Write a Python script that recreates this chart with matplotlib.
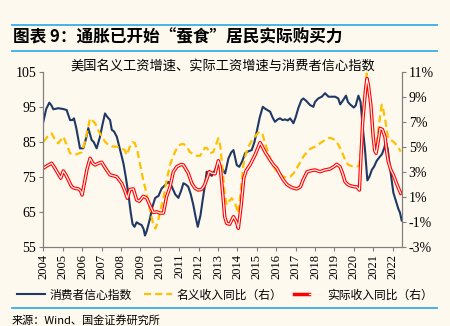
import matplotlib
matplotlib.use("Agg")
import matplotlib.pyplot as plt
from matplotlib.lines import Line2D
from matplotlib.legend_handler import HandlerTuple
from matplotlib.ticker import FuncFormatter

plt.rcParams['font.family'] = ['Noto Sans CJK SC', 'DejaVu Sans']

BG = '#fdf9ee'
RULE = '#3aaee8'
SERIF = 'Liberation Serif'

# Consumer sentiment (left axis)
conf_t = [2004.0, 2004.15, 2004.31, 2004.42, 2004.52, 2004.77, 2005.0, 2005.2, 2005.38, 2005.5,
          2005.58, 2005.7, 2005.89, 2006.06, 2006.2, 2006.32, 2006.49, 2006.6, 2006.75, 2006.92,
          2007.05, 2007.18, 2007.3, 2007.44, 2007.53, 2007.65, 2007.79, 2007.96, 2008.13, 2008.25,
          2008.38, 2008.5, 2008.6, 2008.7, 2008.81, 2008.95, 2009.07, 2009.17, 2009.24, 2009.33,
          2009.5, 2009.6, 2009.76, 2009.85, 2009.93, 2010.1, 2010.25, 2010.44, 2010.6, 2010.8,
          2010.96, 2011.1, 2011.22, 2011.35, 2011.47, 2011.6, 2011.73, 2011.85, 2011.96, 2012.1,
          2012.2, 2012.3, 2012.42, 2012.55, 2012.68, 2012.85, 2012.97, 2013.1, 2013.2, 2013.37,
          2013.54, 2013.68, 2013.8, 2013.97, 2014.1, 2014.25, 2014.4, 2014.55, 2014.74, 2014.88,
          2015.0, 2015.15, 2015.31, 2015.45, 2015.69, 2015.82, 2015.94, 2016.08, 2016.2, 2016.33,
          2016.46, 2016.6, 2016.72, 2016.89, 2017.0, 2017.14, 2017.3, 2017.4, 2017.55, 2017.75,
          2017.92, 2018.0, 2018.17, 2018.35, 2018.52, 2018.7, 2018.86, 2019.04, 2019.2, 2019.3,
          2019.45, 2019.6, 2019.7, 2019.81, 2020.0, 2020.1, 2020.24, 2020.35, 2020.45, 2020.58,
          2020.7, 2020.8, 2020.93, 2021.05, 2021.18, 2021.3, 2021.45, 2021.55, 2021.66, 2021.75,
          2021.87, 2022.04, 2022.15, 2022.3, 2022.38, 2022.47]
conf_v = [90.8, 94.5, 96.3, 95.5, 94.4, 94.7, 94.5, 94.2, 91.3, 91.3,
          91.8, 89.0, 83.2, 83.2, 86.0, 89.0, 85.6, 85.0, 83.2, 86.5,
          90.0, 93.2, 92.2, 91.3, 88.5, 88.0, 86.5, 82.7, 78.9, 75.0,
          70.3, 65.0, 61.5, 60.7, 62.0, 61.5, 61.2, 60.0, 58.2, 59.5,
          63.1, 66.0, 68.9, 69.3, 69.5, 71.7, 72.5, 73.6, 72.5, 70.0,
          69.0, 71.0, 73.2, 72.8, 72.2, 70.0, 67.0, 63.5, 60.7, 64.0,
          67.9, 71.5, 76.5, 76.0, 75.3, 77.0, 78.4, 78.2, 77.5, 76.0,
          80.3, 82.0, 82.7, 78.4, 77.9, 79.5, 81.8, 82.3, 82.7, 85.0,
          88.0, 92.0, 95.1, 94.5, 93.7, 92.0, 90.8, 91.5, 91.8, 91.3,
          91.5, 91.2, 91.8, 90.4, 92.0, 94.7, 97.0, 97.5, 96.8, 95.6,
          95.1, 96.5, 97.5, 98.0, 99.0, 98.0, 98.0, 98.0, 97.5, 95.8,
          97.0, 98.3, 96.5, 95.8, 94.9, 95.5, 98.3, 96.5, 90.0, 82.7,
          74.0, 75.0, 77.0, 78.0, 79.6, 80.5, 81.5, 83.0, 85.0, 83.0,
          77.5, 70.5, 68.5, 65.8, 64.8, 62.5]

# Nominal income yoy % (right axis)
nom_t = [2004.0, 2004.2, 2004.43, 2004.6, 2004.77, 2005.03, 2005.2, 2005.38, 2005.55, 2005.72,
         2005.98, 2006.15, 2006.3, 2006.41, 2006.55, 2006.67, 2006.85, 2007.01, 2007.2, 2007.35,
         2007.55, 2007.78, 2008.04, 2008.2, 2008.3, 2008.45, 2008.6, 2008.72, 2008.85, 2009.0,
         2009.15, 2009.33, 2009.5, 2009.67, 2009.78, 2009.9, 2010.0, 2010.19, 2010.36, 2010.53,
         2010.7, 2010.88, 2011.05, 2011.22, 2011.4, 2011.55, 2011.73, 2011.9, 2012.08, 2012.2,
         2012.33, 2012.45, 2012.59, 2012.76, 2012.9, 2013.02, 2013.12, 2013.22, 2013.35, 2013.45,
         2013.6, 2013.71, 2013.88, 2014.05, 2014.18, 2014.31, 2014.45, 2014.57, 2014.82, 2015.13,
         2015.3, 2015.43, 2015.69, 2015.85, 2016.03, 2016.37, 2016.55, 2016.72, 2016.9, 2017.06,
         2017.25, 2017.4, 2017.6, 2017.75, 2018.0, 2018.26, 2018.5, 2018.77, 2019.04, 2019.2,
         2019.38, 2019.55, 2019.72, 2019.95, 2020.15, 2020.29, 2020.38, 2020.46, 2020.58, 2020.67,
         2020.75, 2020.8, 2020.9, 2021.0, 2021.1, 2021.18, 2021.3, 2021.44, 2021.52, 2021.61,
         2021.7, 2021.78, 2022.04, 2022.25, 2022.42]
nom_v = [5.43, 5.8, 6.1, 5.6, 5.3, 5.83, 5.2, 4.5, 4.4, 4.42,
         4.58, 5.43, 6.5, 7.3, 7.1, 6.9, 6.3, 5.83, 5.4, 5.17,
         5.05, 5.03, 4.9, 4.75, 4.36, 5.0, 5.4, 5.3, 4.7, 3.5,
         2.36, 1.2, -0.05, -1.25, -1.55, -1.0, -0.3, 0.9, 2.36, 3.56,
         4.3, 4.9, 5.2, 5.25, 5.0, 4.6, 4.45, 4.3, 4.3, 4.6,
         4.95, 4.9, 4.5, 4.6, 5.2, 5.7, 5.1, 3.5, 1.2, 0.35,
         0.7, 0.89, 0.49, -0.32, 1.5, 3.56, 4.5, 5.03, 5.7, 6.23,
         6.0, 5.3, 4.1, 3.5, 3.02, 2.62, 2.55, 2.62, 2.9, 3.3,
         3.8, 4.23, 4.6, 4.85, 5.03, 5.3, 5.55, 5.75, 5.57, 5.2,
         4.63, 4.0, 3.56, 3.45, 3.42, 3.56, 5.0, 7.04, 9.5, 10.9,
         10.0, 9.4, 7.5, 6.2, 4.76, 5.2, 6.8, 8.4, 8.0, 7.3,
         6.4, 5.7, 5.43, 5.1, 4.63]

# Real income yoy % (right axis)
real_t = [2004.0, 2004.2, 2004.43, 2004.6, 2004.75, 2004.9, 2005.03, 2005.15, 2005.29, 2005.46,
          2005.6, 2005.8, 2005.92, 2006.0, 2006.1, 2006.25, 2006.41, 2006.55, 2006.67, 2006.85,
          2007.01, 2007.2, 2007.44, 2007.6, 2007.78, 2008.04, 2008.2, 2008.33, 2008.47, 2008.64,
          2008.81, 2008.95, 2009.15, 2009.33, 2009.5, 2009.67, 2009.85, 2010.0, 2010.19, 2010.35,
          2010.53, 2010.7, 2010.88, 2011.1, 2011.22, 2011.47, 2011.65, 2011.82, 2011.99, 2012.16,
          2012.3, 2012.42, 2012.55, 2012.7, 2012.85, 2013.02, 2013.12, 2013.25, 2013.35, 2013.45,
          2013.6, 2013.8, 2013.95, 2014.05, 2014.2, 2014.33, 2014.45, 2014.65, 2014.91, 2015.17,
          2015.3, 2015.43, 2015.69, 2015.85, 2016.03, 2016.2, 2016.37, 2016.55, 2016.72, 2016.9,
          2017.06, 2017.25, 2017.4, 2017.6, 2017.8, 2018.0, 2018.26, 2018.5, 2018.77, 2019.0,
          2019.12, 2019.29, 2019.42, 2019.55, 2019.68, 2019.81, 2020.0, 2020.15, 2020.29, 2020.38,
          2020.46, 2020.6, 2020.68, 2020.75, 2020.88, 2021.0, 2021.08, 2021.15, 2021.25, 2021.36,
          2021.48, 2021.61, 2021.7, 2021.78, 2021.9, 2022.04, 2022.2, 2022.33, 2022.42]
real_v = [3.3, 3.5, 3.7, 3.3, 2.9, 2.5, 3.08, 2.8, 2.36, 1.82,
          1.7, 1.64, 1.5, 1.15, 1.96, 3.2, 4.1, 3.7, 3.56, 3.7,
          3.78, 3.3, 2.76, 2.7, 2.62, 2.09, 1.5, 0.89, 1.6, 1.64,
          0.75, 0.65, 1.05, 0.9, 0.3, -0.25, -0.2, -0.3, -0.3, 1.0,
          1.8, 3.0, 3.42, 3.6, 3.56, 2.9, 2.1, 1.69, 1.55, 1.6,
          1.9, 2.4, 3.02, 2.9, 2.85, 3.9, 3.4, 1.2, -0.6, -1.12,
          -1.2, -0.59, -1.0, -1.52, 0.35, 2.5, 3.1, 3.56, 4.36, 5.35,
          5.0, 4.6, 3.96, 3.6, 3.3, 2.8, 2.36, 2.0, 1.82, 1.7,
          1.64, 1.8, 2.4, 3.02, 3.1, 3.16, 3.02, 3.15, 3.24, 3.45,
          3.62, 3.42, 2.9, 2.22, 2.0, 1.9, 1.82, 1.8, 1.55, 4.5,
          7.04, 9.5, 10.5, 10.0, 8.38, 5.83, 4.7, 4.5, 5.4, 6.5,
          6.4, 5.8, 4.6, 3.83, 3.2, 2.76, 2.1, 1.6, 1.29]

years = list(range(2004, 2023))

fig = plt.figure(figsize=(4.5, 3.26), dpi=100, facecolor=BG)

# header and footer rules
for y in [1 - 25 / 326, 1 - 51 / 326, 1 - 308 / 326]:
    fig.add_artist(Line2D([12 / 450, 437 / 450], [y, y], color=RULE, lw=1.3))
fig.text(13 / 450, 1 - 37 / 326, '图表 9：通胀已开始“蚕食”居民实际购买力', fontsize=12,
         fontweight='bold', va='center', ha='left')
fig.text(12 / 450, 1 - 320 / 326, '来源：Wind、国金证券研究所', fontsize=8,
         va='center', ha='left')

ax = fig.add_axes([43.3 / 450, 1 - 246.7 / 326, 358.4 / 450, 174.4 / 326])
ax.set_facecolor(BG)
ax2 = ax.twinx()

l1, = ax.plot(conf_t, conf_v, color='#1f3864', lw=1.5, zorder=3)
l2, = ax2.plot(nom_t, nom_v, color='#ffc000', lw=1.6, ls=(0, (3.2, 1.8)))
# double red line: red outline with a pale core
l3a, = ax2.plot(real_t, real_v, color='#ff0000', lw=2.5)
l3b, = ax2.plot(real_t, real_v, color='#fff2ee', lw=0.9)

ax.set_xlim(2004, 2022.47)
ax.set_ylim(55, 105)
ax.set_yticks([55, 65, 75, 85, 95, 105])
ax2.set_ylim(-3, 11)
ax2.set_yticks(range(-3, 12, 2))
ax2.yaxis.set_major_formatter(FuncFormatter(lambda v, p: '%d%%' % v))
ax.set_xticks(years)
ax.set_xticklabels([str(y) for y in years], rotation=90, fontfamily=SERIF, fontsize=9)
for lab in ax.get_yticklabels() + ax2.get_yticklabels():
    lab.set_fontfamily(SERIF)
    lab.set_fontsize(10)

for a in (ax, ax2):
    a.spines['top'].set_visible(False)
    for s in ('left', 'right', 'bottom'):
        a.spines[s].set_color('#7f7f7f')
        a.spines[s].set_linewidth(0.8)
    a.tick_params(direction='out', length=3, width=0.8, color='#7f7f7f', pad=2)

ax.set_title('美国名义工资增速、实际工资增速与消费者信心指数', fontsize=9.5, pad=2)

fig.legend([l1, l2, (l3a, l3b)], ['消费者信心指数', '名义收入同比（右）', '实际收入同比（右）'],
           handler_map={tuple: HandlerTuple(ndivide=None, pad=0)},
           loc='center', bbox_to_anchor=(0.5, 1 - 295 / 326), ncol=3, frameon=False,
           fontsize=8.5, handlelength=2.4, handletextpad=0.4, columnspacing=1.0)

fig.savefig('out.png', dpi=100, facecolor=BG)
